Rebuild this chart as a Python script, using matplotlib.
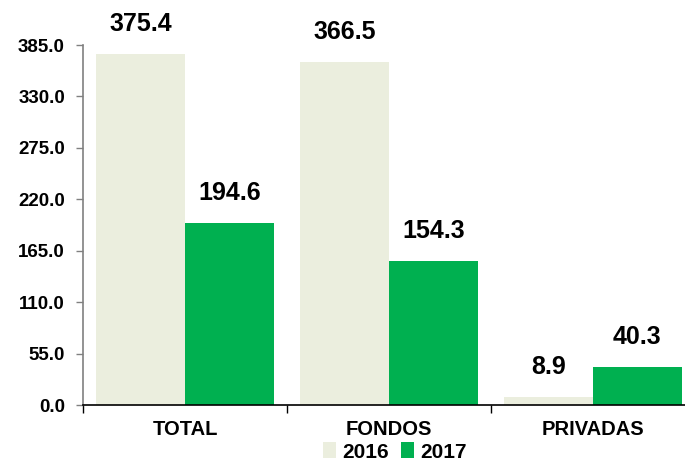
import numpy as np
import matplotlib
matplotlib.use('Agg')
import matplotlib.pyplot as plt

plt.rcParams['font.family'] = ['Liberation Sans', 'DejaVu Sans']
plt.rcParams['font.weight'] = 'bold'

categories = ['TOTAL', 'FONDOS', 'PRIVADAS']
years = ['2016', '2017']
vals_2016 = [375.4, 366.5, 8.9]
vals_2017 = [194.6, 154.3, 40.3]
yticks = [0.0, 55.0, 110.0, 165.0, 220.0, 275.0, 330.0, 385.0]

col_2016 = '#EBEEDE'
col_2017 = '#00B050'

fig = plt.figure(figsize=(6.85, 4.61), dpi=100)
ax = fig.add_axes([83/685, 56/461, 602/685, 360/461])

x = np.arange(len(categories))
w = 0.435
b1 = ax.bar(x - w/2, vals_2016, w, color=col_2016, label=years[0])
b2 = ax.bar(x + w/2, vals_2017, w, color=col_2017, label=years[1])

for bars, vals in [(b1, vals_2016), (b2, vals_2017)]:
    for rect, v in zip(bars, vals):
        ax.annotate(f'{v:.1f}', (rect.get_x() + rect.get_width()/2, v),
                    xytext=(0, 13), textcoords='offset points',
                    ha='center', va='bottom', fontsize=18, fontweight='bold')

ax.set_ylim(0, 385)
ax.set_yticks(yticks)
ax.set_yticklabels([f'{t:.1f}' for t in yticks], fontsize=13.5, fontweight='bold')
ax.set_xlim(-0.5, 2.451)

# category labels between boundary ticks
ax.set_xticks([-0.5, 0.5, 1.5])
ax.set_xticklabels([])
ax.set_xticks(x, minor=True)
ax.set_xticklabels(categories, minor=True, fontsize=14.5, fontweight='bold')
ax.tick_params(axis='x', which='minor', length=0, pad=11)
ax.tick_params(axis='x', which='major', length=6, width=1, color='black')
ax.tick_params(axis='y', length=5, width=1, color='#808080', pad=8)

for s in ['top', 'right']:
    ax.spines[s].set_visible(False)
ax.spines['left'].set_color('#808080')
ax.spines['left'].set_linewidth(1.2)
ax.spines['bottom'].set_color('black')
ax.spines['bottom'].set_linewidth(1.2)

fig.legend(loc='center', bbox_to_anchor=(395/685, 9/461), ncol=2, frameon=False,
           prop={'size': 15, 'weight': 'bold'}, handlelength=0.6, handleheight=0.8,
           handletextpad=0.3, columnspacing=0.6, borderpad=0)

fig.savefig('out.png', dpi=100)
